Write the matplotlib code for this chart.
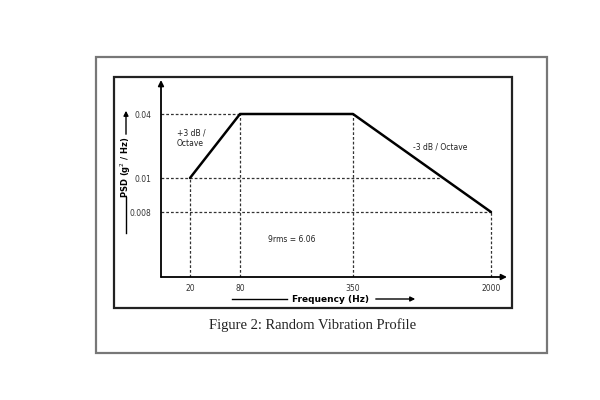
import numpy as np
import matplotlib
matplotlib.use("Agg")
import matplotlib.pyplot as plt
from matplotlib.patches import Rectangle

# profile breakpoints
freq = [20, 80, 350, 2000]
psd = [0.01, 0.04, 0.04, 0.008]
freq_labels = ["20", "80", "350", "2000"]
psd_ticks = [0.04, 0.01, 0.008]
psd_labels = ["0.04", "0.01", "0.008"]
f_cross = 1400          # -3 dB/oct line crosses 0.01 here

# the sketch is not to scale: piecewise mapping value -> position
xk_val = [0, 20, 80, 350, 2000, 2200]
xk_pos = [161, 190, 240, 353, 491, 507]
yk_val = [0, 0.008, 0.01, 0.04, 0.05]
yk_pos = [123, 188, 222, 286, 320]


def px(x, y):
    return (x / 600, 1 - y / 400)


fig = plt.figure(figsize=(6, 4), dpi=100)
fig.patch.set_facecolor("white")

# frames
fig.add_artist(Rectangle(px(96, 353), 451 / 600, 296 / 400, transform=fig.transFigure,
                         fill=False, ec="#777777", lw=1.6))
fig.add_artist(Rectangle(px(114, 308), 398 / 600, 231 / 400, transform=fig.transFigure,
                         fill=False, ec="#222222", lw=1.6))

ax = fig.add_axes([161 / 600, 123 / 400, 346 / 600, 197 / 400])
ax.patch.set_alpha(0)
ax.set_xscale("function", functions=(lambda v: np.interp(v, xk_val, xk_pos),
                                     lambda p: np.interp(p, xk_pos, xk_val)))
ax.set_yscale("function", functions=(lambda v: np.interp(v, yk_val, yk_pos),
                                     lambda p: np.interp(p, yk_pos, yk_val)))
ax.set_xlim(0, 2200)
ax.set_ylim(0, 0.05)
for s in ax.spines.values():
    s.set_visible(False)

dash = (0, (2.2, 1.6))
ax.vlines(freq, 0, psd, colors="#333333", linestyles=dash, lw=0.9)
ax.hlines([0.04, 0.01, 0.008], 0, [80, f_cross, 2000], colors="#333333", linestyles=dash, lw=0.9)
ax.plot(freq, psd, color="black", lw=1.8, solid_capstyle="round")

# axes with arrows
ax.annotate("", xy=(0, 1), xytext=(0, 0), xycoords="axes fraction",
            arrowprops=dict(arrowstyle="-|>", color="black", lw=1.3, mutation_scale=8,
                            shrinkA=0, shrinkB=0))
ax.annotate("", xy=(1, 0), xytext=(0, 0), xycoords="axes fraction",
            arrowprops=dict(arrowstyle="-|>", color="black", lw=1.3, mutation_scale=8,
                            shrinkA=0, shrinkB=0))

ax.set_xticks(freq)
ax.set_xticklabels(freq_labels)
ax.set_yticks(psd_ticks)
ax.set_yticklabels(psd_labels)
ax.minorticks_off()
ax.tick_params(axis="x", length=0, pad=5, labelsize=5.5, labelcolor="#333333")
ax.tick_params(axis="y", length=0, pad=7, labelsize=5.5, labelcolor="#333333")

fs = 5.5
fig.text(*px(177, 133), "+3 dB /", fontsize=fs, va="center", color="#222222")
fig.text(*px(177, 143), "Octave", fontsize=fs, va="center", color="#222222")
fig.text(*px(413, 147), "-3 dB / Octave", fontsize=fs, va="center", color="#222222")
fig.text(*px(268, 240), "9rms = 6.06", fontsize=fs, va="center", color="#222222")

# y label with arrow
fig.text(*px(126, 167), "PSD (g$^2$ / Hz)", rotation=90, fontsize=6, fontweight="bold",
         ha="center", va="center")
fig.add_artist(plt.Line2D([126 / 600, 126 / 600], [1 - 233 / 400, 1 - 197 / 400],
                          color="black", lw=1.0, transform=fig.transFigure))
fig.add_artist(matplotlib.patches.FancyArrowPatch(px(126, 137), px(126, 108),
                                                  transform=fig.transFigure, arrowstyle="-|>",
                                                  mutation_scale=7, color="black", lw=1.0))

# x label with arrow
fig.text(*px(330, 299), "Frequency (Hz)", fontsize=6.5, fontweight="bold",
         ha="center", va="center")
fig.add_artist(plt.Line2D([232 / 600, 287 / 600], [1 - 299 / 400] * 2,
                          color="black", lw=1.0, transform=fig.transFigure))
fig.add_artist(matplotlib.patches.FancyArrowPatch(px(373, 299), px(418, 299),
                                                  transform=fig.transFigure, arrowstyle="-|>",
                                                  mutation_scale=7, color="black", lw=1.0))

fig.text(*px(313, 325), "Figure 2: Random Vibration Profile", fontsize=10.5,
         family="Liberation Serif", ha="center", va="center", color="#222222")

fig.savefig("out.png", dpi=100)
